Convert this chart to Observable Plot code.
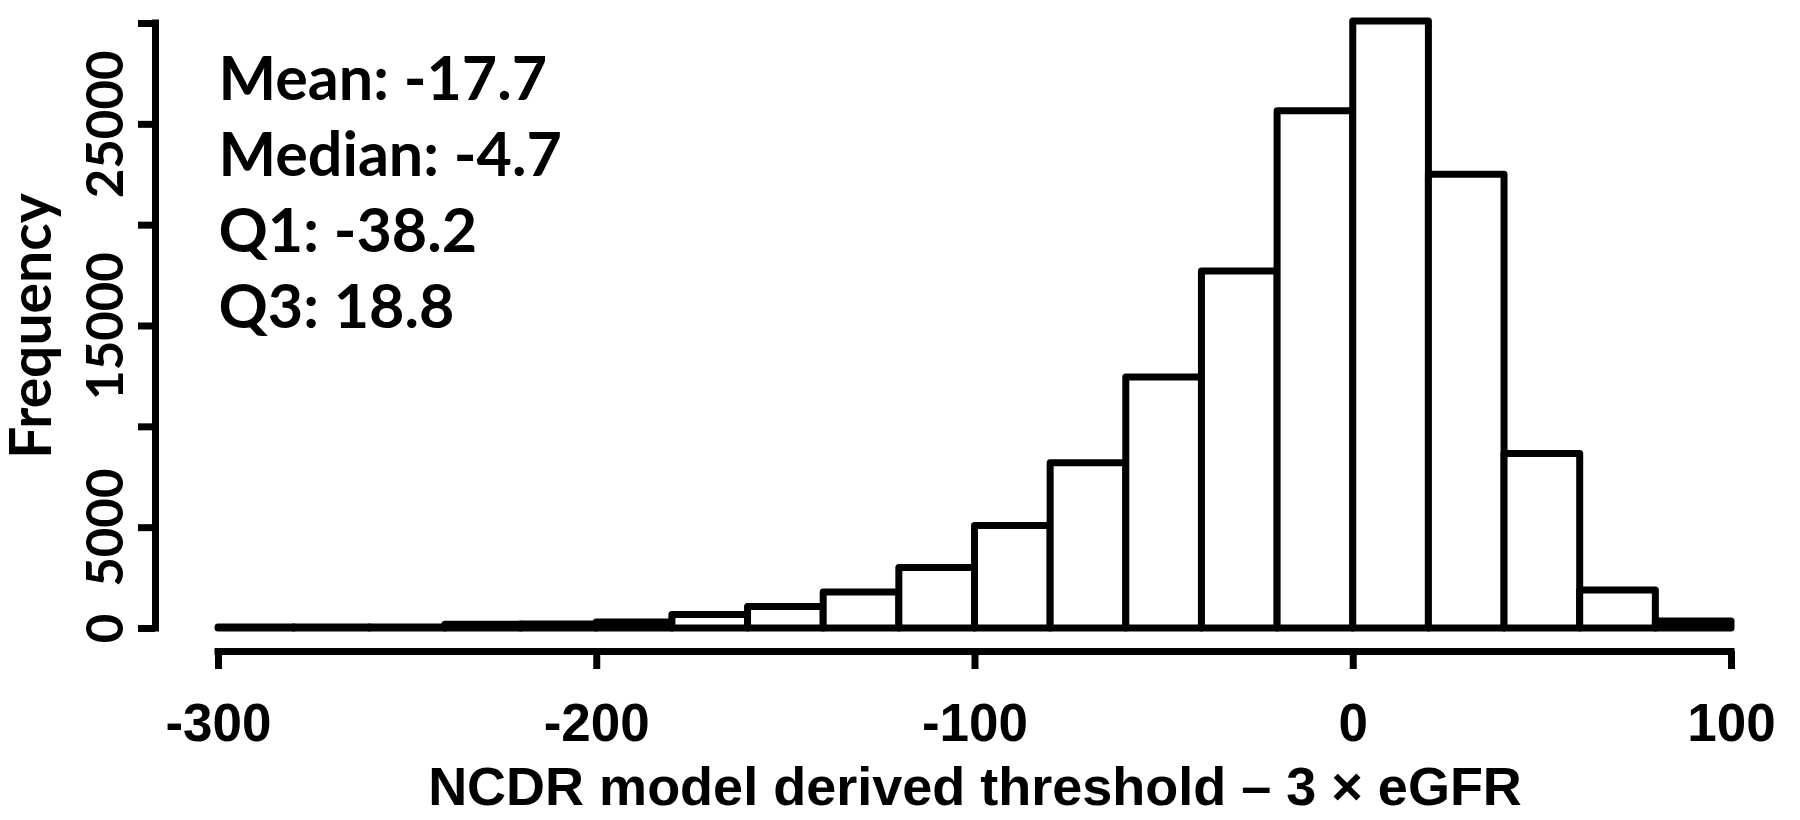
<!DOCTYPE html>
<html>
<head>
<meta charset="utf-8">
<script src="https://cdn.jsdelivr.net/npm/d3@7"></script>
<script src="https://cdn.jsdelivr.net/npm/@observablehq/plot@0.6"></script>
<style>
  html, body { margin: 0; padding: 0; background: #fff; }
  #chart { width: 1800px; height: 820px; }
</style>
</head>
<body>
<div id="chart"></div>
<script>
// ---- data ----
const binStart = [-300, -280, -260, -240, -220, -200, -180, -160, -140, -120, -100, -80, -60, -40, -20, 0, 20, 40, 60, 80];
const binWidth = 20;
const counts   = [50, 50, 50, 180, 200, 300, 670, 1060, 1780, 3000, 5080, 8200, 12450, 17700, 25650, 30100, 22500, 8650, 1880, 350];
const xTicks = [-300, -200, -100, 0, 100];
const yTicks = [0, 5000, 10000, 15000, 20000, 25000, 30000];
const yTickLabels = [0, 5000, 15000, 25000];
const statLabels = ["Mean", "Median", "Q1", "Q3"];
const statValues = ["-17.7", "-4.7", "-38.2", "18.8"];
const xTitle = "NCDR model derived threshold \u2013 3 \u00d7 eGFR";
const yTitle = "Frequency";

const bins = binStart.map((s, i) => ({x1: s, x2: s + binWidth, count: counts[i]}));
const statText = statLabels.map((l, i) => `${l}: ${statValues[i]}`).join("\n");

const calibriLike = "Lato, 'Open Sans', sans-serif";
const arialLike = "'Liberation Sans', Arial, sans-serif";

const chart = Plot.plot({
  width: 1800,
  height: 820,
  marginLeft: 218,
  marginRight: 69,
  marginTop: 23,
  marginBottom: 192,
  x: {domain: [-300, 100], axis: null},
  y: {domain: [0, 30000], axis: null},
  style: {background: "#fff", color: "#000", overflow: "visible"},
  marks: [
    // histogram bars
    Plot.rectY(bins, {x1: "x1", x2: "x2", y: "count", fill: "white", stroke: "black", strokeWidth: 7, strokeLinejoin: "round"}),
    // y axis (offset to the left, R style)
    Plot.ruleX([binStart[0]], {y1: yTicks[0], y2: yTicks[yTicks.length - 1], dx: -63, stroke: "black", strokeWidth: 7, strokeLinecap: "square"}),
    Plot.axisY(yTicks, {anchor: "left", label: null, dx: -63, tickSize: 17, strokeWidth: 7, tickFormat: () => ""}),
    Plot.axisY(yTickLabels, {anchor: "left", label: null, dx: -63, tickSize: 0, tickPadding: 49, rotate: -90, textAnchor: "middle",
      tickFormat: d => String(d), fontSize: 51, fontFamily: calibriLike, fontWeight: "bold", fill: "black"}),
    // x axis (offset below)
    Plot.ruleY([yTicks[0]], {x1: xTicks[0], x2: xTicks[xTicks.length - 1], dy: 23, stroke: "black", strokeWidth: 7, strokeLinecap: "square"}),
    Plot.axisX(xTicks, {anchor: "bottom", label: null, dy: 23, tickSize: 18, strokeWidth: 7, tickPadding: 34,
      tickFormat: d => String(d), fontSize: 53, fontFamily: arialLike, fontWeight: "bold", fill: "black"}),
    // axis titles
    Plot.text([xTitle], {frameAnchor: "bottom", textAnchor: "middle", dy: 176, fontSize: 54, fontFamily: arialLike, fontWeight: "bold", fill: "black"}),
    Plot.text([yTitle], {frameAnchor: "left", textAnchor: "middle", dx: -186, rotate: -90, fontSize: 57, fontFamily: calibriLike, fontWeight: "bold", fill: "black"}),
    // summary statistics
    Plot.text([statText], {frameAnchor: "top-left", lineAnchor: "top", textAnchor: "start", dy: 22, lineHeight: 1.25,
      fontSize: 61, fontFamily: calibriLike, fontWeight: "bold", fill: "black"})
  ]
});

document.getElementById("chart").appendChild(chart);
</script>
</body>
</html>
